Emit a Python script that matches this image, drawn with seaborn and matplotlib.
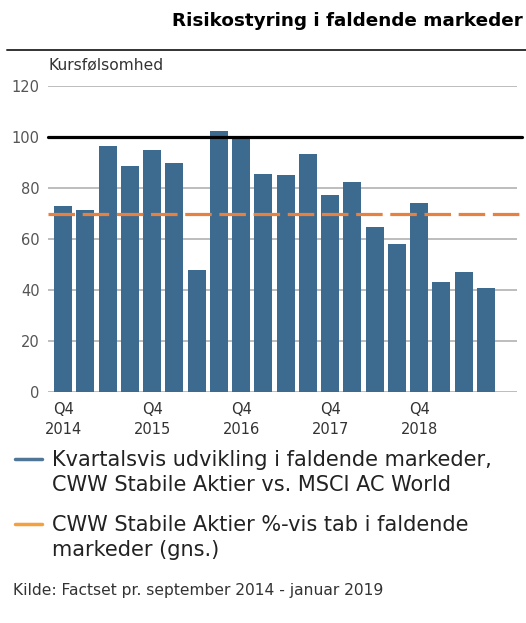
import matplotlib
matplotlib.use("Agg")
import matplotlib.pyplot as plt
import seaborn as sns
from matplotlib.lines import Line2D

# Data
quarters = [
    "Q4 2014", "Q1 2015", "Q2 2015", "Q3 2015",
    "Q4 2015", "Q1 2016", "Q2 2016", "Q3 2016",
    "Q4 2016", "Q1 2017", "Q2 2017", "Q3 2017",
    "Q4 2017", "Q1 2018", "Q2 2018", "Q3 2018",
    "Q4 2018", "Q1 2019", "Q2 2019", "Q3 2019",
]
sensitivity = [72.8, 71.3, 96.4, 88.5, 94.8, 89.7, 47.7, 102.5, 99.5, 85.4,
               85.0, 93.2, 77.2, 82.3, 64.6, 57.9, 74.0, 43.0, 47.0, 40.7]
avg_loss = 69.9
benchmark = 100
tick_pos = [0, 4, 8, 12, 16]
tick_labels = ["Q4\n2014", "Q4\n2015", "Q4\n2016", "Q4\n2017", "Q4\n2018"]
yticks = [0, 20, 40, 60, 80, 100, 120]

bar_color = "#3d6b8f"
orange = "#e8803f"
text_col = "#333333"

sns.set_style("white")
plt.rcParams['font.family'] = ['DejaVu Sans']

fig = plt.figure(figsize=(5.26, 6.23), dpi=100)
ax = fig.add_axes([48 / 526, 1 - 392 / 623, (517 - 48) / 526, (392 - 86) / 623])

sns.barplot(x=quarters, y=sensitivity, color=bar_color, saturation=1,
            width=0.81, linewidth=0, ax=ax)
for p in ax.patches:
    p.set_zorder(2)

# Gridlines under the bars
for t in yticks:
    ax.axhline(t, color="#bdbdbd", lw=1.4, zorder=0.5)

ax.axhline(benchmark, color="black", lw=2.3, zorder=3, xmax=1.01, clip_on=False)
dash = ax.axhline(avg_loss, color=orange, lw=2.3, zorder=4, xmax=1.01, clip_on=False)
dash.set_dashes([8.3, 2.4])

ax.set_xlim(-0.68, 20.4)
ax.set_ylim(0, 120)
ax.set_yticks(yticks)
ax.set_yticklabels([str(t) for t in yticks], fontsize=10.5, color="#555555")
ax.set_xticks(tick_pos)
ax.set_xticklabels(tick_labels, fontsize=10.5, color="#333333", linespacing=1.4)
ax.tick_params(axis="y", length=0, pad=6)
ax.tick_params(axis="x", length=0, pad=7)
for s in ax.spines.values():
    s.set_visible(False)
ax.set_xlabel("")
ax.set_ylabel("")

# Title and rule
fig.text(523 / 526, 1 - 21 / 623, "Risikostyring i faldende markeder",
         ha="right", va="center", fontsize=13.2, fontweight="bold", color="black")
fig.add_artist(Line2D([7 / 526, 1], [1 - 50 / 623, 1 - 50 / 623],
                      color="#333333", lw=1.4))
fig.text(48 / 526, 1 - 65 / 623, "Kursfølsomhed", ha="left", va="center",
         fontsize=11.2, color=text_col)

# Legend
fig.add_artist(Line2D([15 / 526, 42 / 526], [1 - 459 / 623, 1 - 459 / 623],
                      color="#4f7597", lw=2.5))
fig.text(52 / 526, 1 - 472.5 / 623,
         "Kvartalsvis udvikling i faldende markeder,\nCWW Stabile Aktier vs. MSCI AC World",
         ha="left", va="center", fontsize=15, color="#222222", linespacing=1.3)
fig.add_artist(Line2D([15 / 526, 42 / 526], [1 - 524 / 623, 1 - 524 / 623],
                      color="#f5a03c", lw=2.5))
fig.text(52 / 526, 1 - 537.5 / 623,
         "CWW Stabile Aktier %-vis tab i faldende\nmarkeder (gns.)",
         ha="left", va="center", fontsize=15, color="#222222", linespacing=1.3)

fig.text(13 / 526, 1 - 590 / 623, "Kilde: Factset pr. september 2014 - januar 2019",
         ha="left", va="center", fontsize=11.2, color="#333333")

fig.savefig("out.png", dpi=100)
